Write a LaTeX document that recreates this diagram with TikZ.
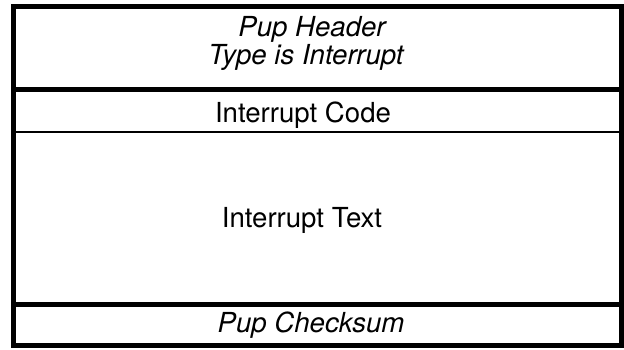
\documentclass[tikz,border=0pt]{standalone}
\usepackage{fontspec}
\setmainfont{TeX Gyre Heros}
\begin{document}
\begin{tikzpicture}
    [x=0.5pt,y=-0.5pt,
     heavy/.style={line width=2.5pt},
     light/.style={line width=1.1pt},
     field/.style={anchor=base,inner sep=0pt,font=\fontsize{13.8}{16}\selectfont},
     slanted/.style={field,font=\fontsize{13.8}{16}\selectfont\itshape}]
    \useasboundingbox (0,0) rectangle (624,349);
    % frame and field separators
    \draw [heavy] (13.5,6) rectangle (621,345);
    \coordinate (hl) at (13.5,89.5);  \coordinate (hr) at (621,89.5);
    \coordinate (cl) at (13.5,132);   \coordinate (cr) at (621,132);
    \coordinate (tl) at (13.5,304);   \coordinate (tr) at (621,304);
    \draw [heavy] (hl) -- (hr);
    \draw [light] (cl) -- (cr);
    \draw [heavy] (tl) -- (tr);
    % field labels
    \node [slanted] (hdr) at (312,36) {Pup Header};
    \node [slanted] (typ) at (306,64) {Type is Interrupt};
    \node [field] (code) at (303,122) {Interrupt Code};
    \node [field] (text) at (302,227) {Interrupt Text};
    \node [slanted] (sum) at (311,332) {Pup Checksum};
\end{tikzpicture}
\end{document}
